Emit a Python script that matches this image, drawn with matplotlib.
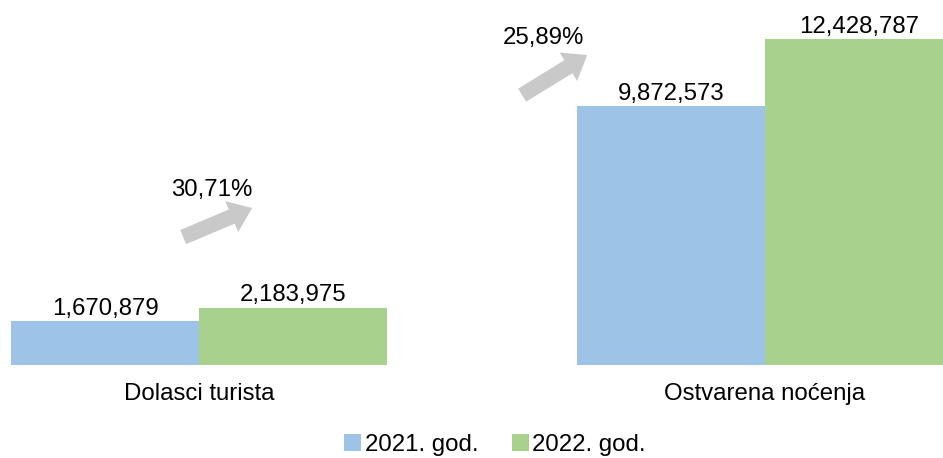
import numpy as np
import matplotlib.pyplot as plt

plt.rcParams["font.family"] = ["Liberation Sans", "DejaVu Sans"]

categories = ["Dolasci turista", "Ostvarena noćenja"]
series = ["2021. god.", "2022. god."]
values_2021 = [1670879, 9872573]
values_2022 = [2183975, 12428787]
growth = ["30,71%", "25,89%"]

colors = ["#9DC3E6", "#A9D18E"]
fs = 17.3

fig = plt.figure(figsize=(9.43, 4.58), dpi=100)
ax = fig.add_axes([0, 0.203, 1, 0.797])

x = np.arange(len(categories))
w = 0.332
b1 = ax.bar(x - w / 2, values_2021, w, color=colors[0], label=series[0])
b2 = ax.bar(x + w / 2, values_2022, w, color=colors[1], label=series[1])

for bars in (b1, b2):
    ax.bar_label(bars, labels=[f"{v:,}" for v in bars.datavalues],
                 padding=1, fontsize=fs)

# gray growth arrows with percentage text
arrow_pos = [
    # (tail x, tail y, head x, head y, text x, text y) relative to group
    (-0.028, 4.88e6, 0.094, 5.99e6, 0.023, 6.67e6),
    (-0.429, 10.29e6, -0.314, 11.82e6, -0.392, 12.47e6),
]
for i, (tx, ty, hx, hy, lx, ly) in enumerate(arrow_pos):
    ax.annotate("", xy=(x[i] + hx, hy), xytext=(x[i] + tx, ty),
                arrowprops=dict(arrowstyle="simple,head_length=16,head_width=24,tail_width=11",
                                mutation_scale=1, color="#C9C9C9", lw=0,
                                shrinkA=0, shrinkB=0))
    ax.text(x[i] + lx, ly, growth[i], ha="center", va="center", fontsize=fs)

ax.set_xlim(-0.3516, 1.3145)
ax.set_ylim(0, 13.92e6)
ax.set_xticks(x)
ax.set_xticklabels(categories, fontsize=fs)
ax.tick_params(axis="x", length=0, pad=13)
ax.set_yticks([])
for s in ax.spines.values():
    s.set_visible(False)

fig.legend(loc="center", bbox_to_anchor=(495 / 943, 0.028), ncol=2, frameon=False,
           fontsize=fs, handlelength=0.7, handleheight=0.7, handletextpad=0.15,
           columnspacing=1.4)

fig.savefig("out.png", dpi=100)
